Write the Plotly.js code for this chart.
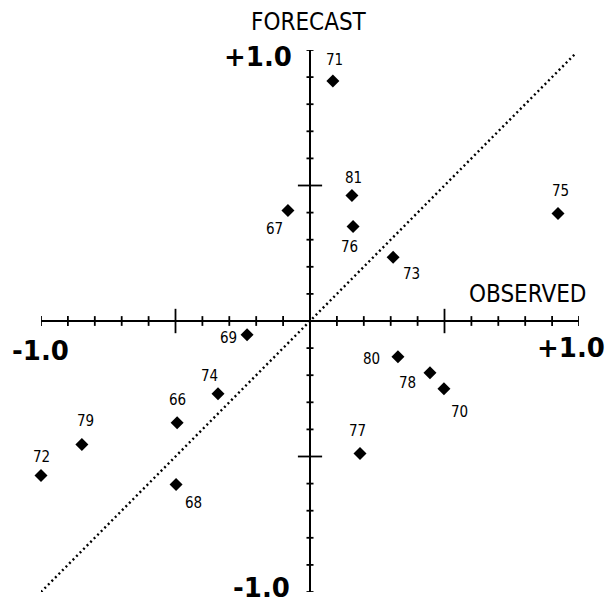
<!DOCTYPE html>
<html>
<head>
<meta charset="utf-8">
<script src="https://cdn.plot.ly/plotly-3.0.1.min.js"></script>
<style>html,body{margin:0;padding:0;background:#fff;}#chart{width:609px;height:609px;}</style>
</head>
<body>
<div id="chart"></div>
<script>
// Data
const years    = ["71", "81", "67", "76", "73", "75", "69", "80", "78", "70", "74", "66", "79", "72", "68", "77"];
const observed = [0.085, 0.156, -0.082, 0.160, 0.309, 0.922, -0.234, 0.327, 0.446, 0.498, -0.342, -0.494, -0.848, -1.000, -0.498, 0.186];
const forecast = [0.886, 0.463, 0.408, 0.349, 0.235, 0.397, -0.051, -0.132, -0.191, -0.250, -0.268, -0.375, -0.456, -0.570, -0.603, -0.489];
const tickVals = [-1.0, -0.9, -0.8, -0.7, -0.6, -0.5, -0.4, -0.3, -0.2, -0.1, 0.1, 0.2, 0.3, 0.4, 0.5, 0.6, 0.7, 0.8, 0.9, 1.0];
const majorTicks = [-0.5, 0.5];
const endLabels = {neg: "-1.0", pos: "+1.0"};
const diagLine = [-1.0, 0.985];

// Label offsets (screen px) for each year label
const labelDx = [2, 2, -13, -4, 18, 2, -19, -26, -22, 16, -9, 0, 4, 0, 17, -3];
const labelDy = [21, 18, -19, -21, -17, 22, -3, -2, -10, -23, 18, 23, 24, 18, -19, 23];

const traces = [];
// axis lines
traces.push({x: [-1, 1], y: [0, 0], mode: 'lines', line: {color: '#000', width: 2}, hoverinfo: 'skip', cliponaxis: false});
traces.push({x: [0, 0], y: [-1, 1], mode: 'lines', line: {color: '#000', width: 2}, hoverinfo: 'skip', cliponaxis: false});

// ticks
const hx = [], hy = [], vx = [], vy = [];
tickVals.forEach(v => {
  const major = majorTicks.includes(v);
  const lx = major ? 0.045 : 0.018;
  const ly = major ? 0.045 : 0.013;
  hx.push(v, v, null); hy.push(-lx, lx, null);
  vx.push(-ly, ly, null); vy.push(v, v, null);
});
traces.push({x: hx, y: hy, mode: 'lines', line: {color: '#000', width: 1.8}, hoverinfo: 'skip', cliponaxis: false});
traces.push({x: vx, y: vy, mode: 'lines', line: {color: '#000', width: 1.8}, hoverinfo: 'skip', cliponaxis: false});

// diagonal dotted line
traces.push({x: diagLine, y: diagLine, mode: 'lines', line: {color: '#000', width: 2.4, dash: '2px,3px'}, hoverinfo: 'skip', cliponaxis: false});

// points
traces.push({x: observed, y: forecast, mode: 'markers', marker: {symbol: 'diamond', size: 10, color: '#000'}, cliponaxis: false, text: years});

const numFont = {family: "DejaVu Sans Condensed, sans-serif", size: 15, color: '#000'};
const bigFont = {family: "DejaVu Sans, sans-serif", size: 26, color: '#000', weight: 'bold'};
const titleFont = {family: "DejaVu Sans Condensed, sans-serif", size: 24, color: '#000'};

const annotations = years.map((t, i) => ({
  x: observed[i], y: forecast[i], text: t, showarrow: false,
  xshift: labelDx[i], yshift: labelDy[i], font: numFont
}));
annotations.push({x: -1, y: 0, text: '<b>' + endLabels.neg + '</b>', showarrow: false, xshift: -1, yshift: -30, font: bigFont});
annotations.push({x: 1, y: 0, text: '<b>' + endLabels.pos + '</b>', showarrow: false, xshift: -8, yshift: -27, font: bigFont});
annotations.push({x: 0, y: 1, text: '<b>' + endLabels.pos + '</b>', showarrow: false, xshift: -52, yshift: -7, font: bigFont});
annotations.push({x: 0, y: -1, text: '<b>' + endLabels.neg + '</b>', showarrow: false, xshift: -49, yshift: 4, font: bigFont});
annotations.push({x: 0, y: 1, text: 'FORECAST', showarrow: false, xshift: -1, yshift: 28, font: titleFont});
annotations.push({x: 1, y: 0, text: 'OBSERVED', showarrow: false, xshift: -52, yshift: 27, font: titleFont});

const layout = {
  width: 609, height: 609,
  margin: {l: 41, r: 30, t: 50, b: 17, pad: 0},
  paper_bgcolor: '#fff', plot_bgcolor: '#fff',
  showlegend: false,
  xaxis: {range: [-1, 1], visible: false, fixedrange: true},
  yaxis: {range: [-1, 1], visible: false, fixedrange: true},
  annotations: annotations
};

Plotly.newPlot('chart', traces, layout, {staticPlot: true, displayModeBar: false});
</script>
</body>
</html>
